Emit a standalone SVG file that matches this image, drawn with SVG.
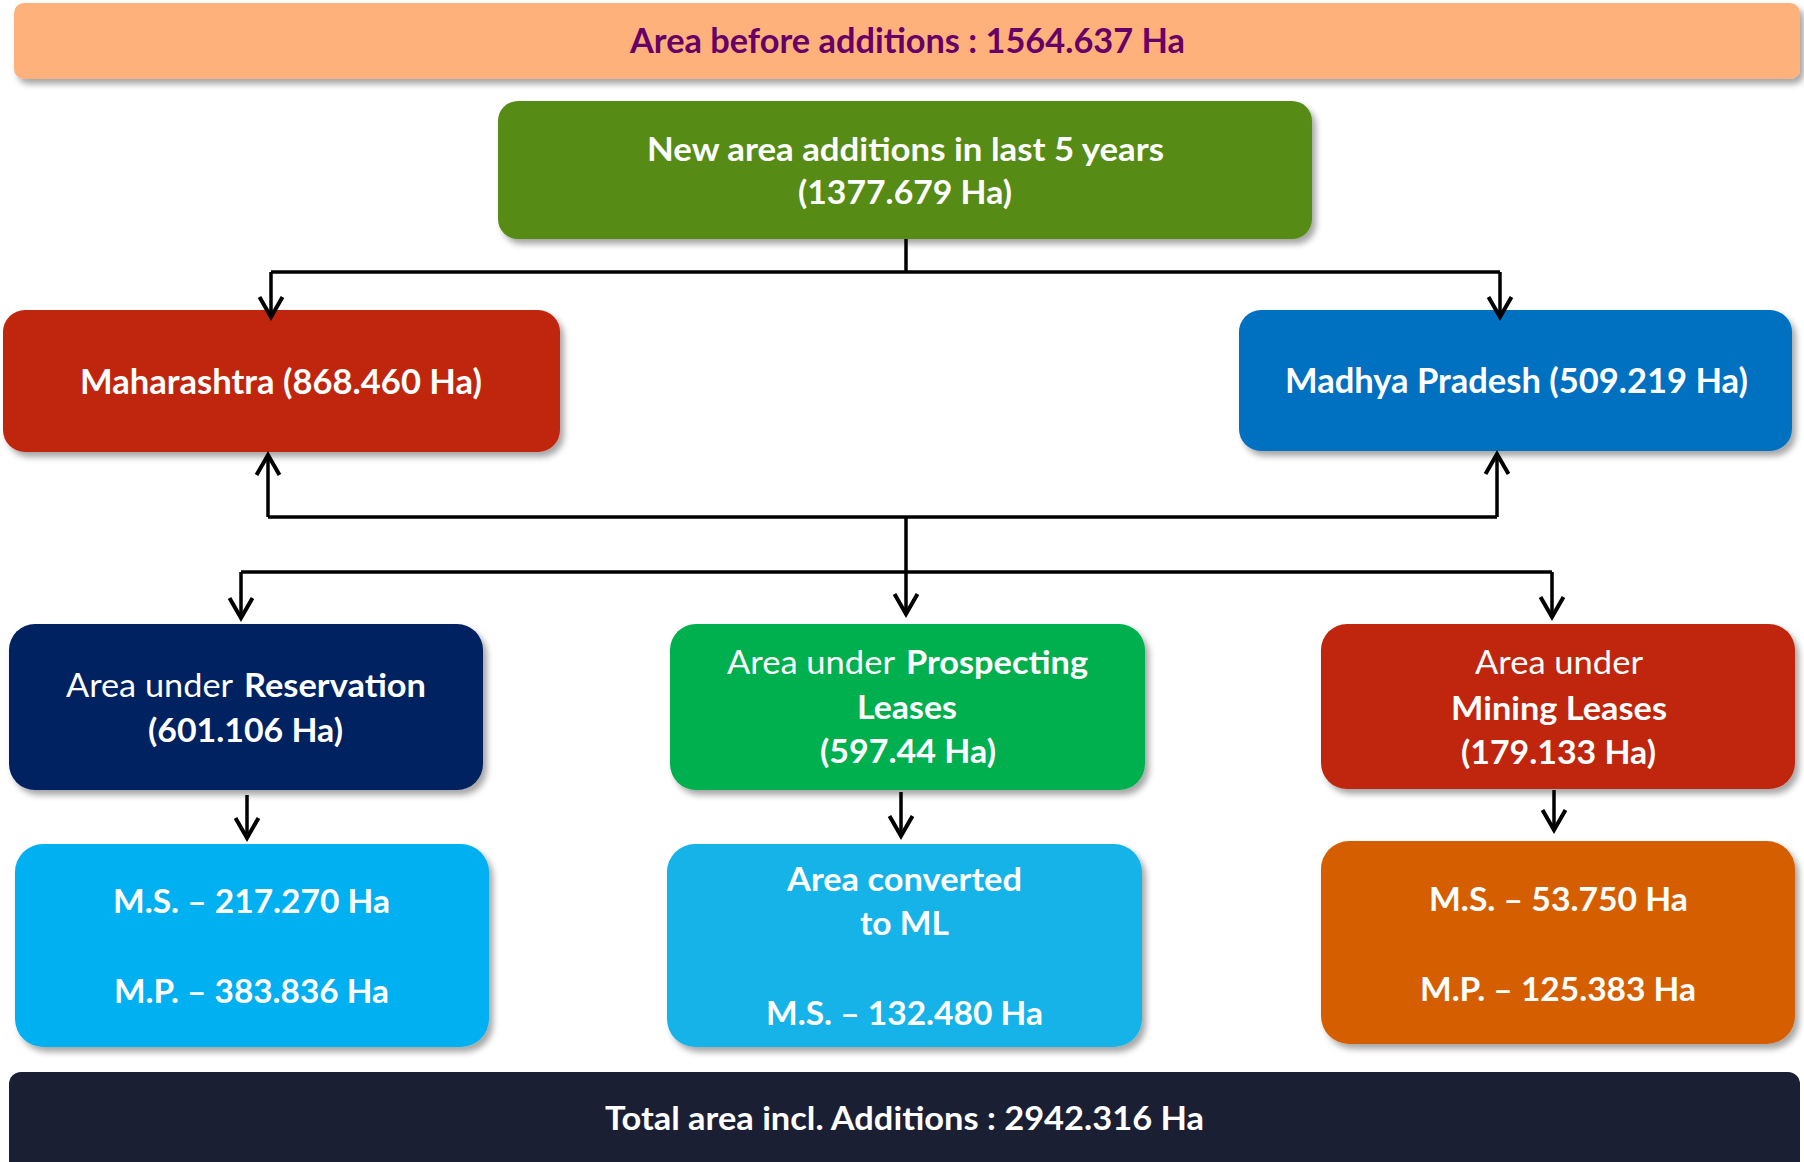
<svg xmlns="http://www.w3.org/2000/svg" width="1804" height="1162" viewBox="0 0 1804 1162">
<style>
  text { font-family: Lato, "Open Sans", "Liberation Sans", sans-serif; fill: #ffffff; }
  .b { font-weight: 700; font-size: 33px; }
  .r { font-weight: 400; font-size: 33px; }
  .big { font-weight: 700; font-size: 35px; }
  .conn { fill: none; stroke: #000000; stroke-width: 3.5; }
  .arr { marker-end: url(#arrow); }
</style>
<defs>
  <filter id="sh" x="-5%" y="-10%" width="115%" height="130%">
    <feDropShadow dx="4" dy="5" stdDeviation="3" flood-color="#000000" flood-opacity="0.35"/>
  </filter>
  <marker id="arrow" markerUnits="userSpaceOnUse" viewBox="-24 -15 28 30" markerWidth="28" markerHeight="30" refX="0" refY="0" orient="auto">
    <path d="M -20 -11.5 L 0 0 L -20 11.5" fill="none" stroke="#000000" stroke-width="4"/>
  </marker>
</defs>
<rect width="1804" height="1162" fill="#ffffff"/>

<g id="area-before">
  <rect x="14" y="3" width="1786" height="76" rx="10" fill="#FFB17B" filter="url(#sh)"/>
  <text class="big" x="630" y="53" textLength="555" lengthAdjust="spacingAndGlyphs" style="fill:#660066">Area before additions : 1564.637 Ha</text>
</g>

<g id="new-additions">
  <rect x="498" y="101" width="814" height="138" rx="20" fill="#578B14" filter="url(#sh)"/>
  <text class="b" x="647" y="161" textLength="517" lengthAdjust="spacingAndGlyphs">New area additions in last 5 years</text>
  <text class="b" x="798" y="204" textLength="214" lengthAdjust="spacingAndGlyphs">(1377.679 Ha)</text>
</g>

<g id="maharashtra">
  <rect x="3" y="310" width="557" height="142" rx="22" fill="#C0250E" filter="url(#sh)"/>
  <text class="big" x="80" y="394" textLength="402" lengthAdjust="spacingAndGlyphs">Maharashtra (868.460 Ha)</text>
</g>

<g id="madhya-pradesh">
  <rect x="1239" y="310" width="553" height="141" rx="22" fill="#0070C0" filter="url(#sh)"/>
  <text class="big" x="1285" y="393" textLength="463" lengthAdjust="spacingAndGlyphs">Madhya Pradesh (509.219 Ha)</text>
</g>

<g id="reservation">
  <rect x="9" y="624" width="474" height="166" rx="26" fill="#002060" filter="url(#sh)"/>
  <text y="697"><tspan class="r" x="66" textLength="167" lengthAdjust="spacingAndGlyphs">Area under</tspan><tspan class="b" x="244" textLength="182" lengthAdjust="spacingAndGlyphs">Reservation</tspan></text>
  <text class="b" x="148" y="742" textLength="195" lengthAdjust="spacingAndGlyphs">(601.106 Ha)</text>
</g>

<g id="prospecting">
  <rect x="670" y="624" width="475" height="166" rx="26" fill="#00B050" filter="url(#sh)"/>
  <text y="674"><tspan class="r" x="727" textLength="168" lengthAdjust="spacingAndGlyphs">Area under</tspan><tspan class="b" x="906" textLength="182" lengthAdjust="spacingAndGlyphs">Prospecting</tspan></text>
  <text class="b" x="857" y="719" textLength="100" lengthAdjust="spacingAndGlyphs">Leases</text>
  <text class="b" x="820" y="763" textLength="176" lengthAdjust="spacingAndGlyphs">(597.44 Ha)</text>
</g>

<g id="mining">
  <rect x="1321" y="624" width="474" height="165" rx="26" fill="#C0250E" filter="url(#sh)"/>
  <text class="r" x="1475" y="674" textLength="168" lengthAdjust="spacingAndGlyphs">Area under</text>
  <text class="b" x="1451" y="720" textLength="216" lengthAdjust="spacingAndGlyphs">Mining Leases</text>
  <text class="b" x="1461" y="764" textLength="195" lengthAdjust="spacingAndGlyphs">(179.133 Ha)</text>
</g>

<g id="reservation-split">
  <rect x="15" y="844" width="474" height="203" rx="28" fill="#00B0F0" filter="url(#sh)"/>
  <text class="b" x="113" y="913" textLength="277" lengthAdjust="spacingAndGlyphs">M.S. – 217.270 Ha</text>
  <text class="b" x="114" y="1003" textLength="275" lengthAdjust="spacingAndGlyphs">M.P. – 383.836 Ha</text>
</g>

<g id="converted-ml">
  <rect x="667" y="844" width="475" height="203" rx="28" fill="#13B3E9" filter="url(#sh)"/>
  <text class="b" x="787" y="891" textLength="235" lengthAdjust="spacingAndGlyphs">Area converted</text>
  <text class="b" x="860" y="935" textLength="89" lengthAdjust="spacingAndGlyphs">to ML</text>
  <text class="b" x="766" y="1025" textLength="277" lengthAdjust="spacingAndGlyphs">M.S. – 132.480 Ha</text>
</g>

<g id="mining-split">
  <rect x="1321" y="841" width="474" height="203" rx="28" fill="#D55E00" filter="url(#sh)"/>
  <text class="b" x="1429" y="911" textLength="259" lengthAdjust="spacingAndGlyphs">M.S. – 53.750 Ha</text>
  <text class="b" x="1420" y="1001" textLength="276" lengthAdjust="spacingAndGlyphs">M.P. – 125.383 Ha</text>
</g>

<g id="total-area">
  <rect x="9" y="1072" width="1791" height="104" rx="12" fill="#1B1F33"/>
  <text class="b" x="605" y="1130" textLength="599" lengthAdjust="spacingAndGlyphs">Total area incl. Additions : 2942.316 Ha</text>
</g>

<g id="connectors">
  <path class="conn" d="M906 239 V272"/>
  <path class="conn" d="M271 272 H1500"/>
  <path class="conn arr" d="M271 272 V317"/>
  <path class="conn arr" d="M1500 272 V317"/>
  <path class="conn" d="M268 517 H1497"/>
  <path class="conn arr" d="M268 517 V455"/>
  <path class="conn arr" d="M1497 517 V454"/>
  <path class="conn" d="M906 517 V572"/>
  <path class="conn" d="M241 572 H1552"/>
  <path class="conn arr" d="M241 572 V618"/>
  <path class="conn arr" d="M906 572 V614"/>
  <path class="conn arr" d="M1552 572 V617"/>
  <path class="conn arr" d="M247 795 V838"/>
  <path class="conn arr" d="M901 792 V836"/>
  <path class="conn arr" d="M1554 790 V830"/>
</g>
</svg>
